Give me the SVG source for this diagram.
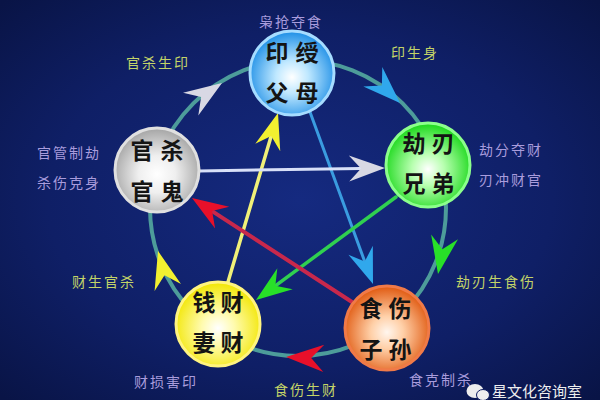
<svg xmlns="http://www.w3.org/2000/svg" xmlns:xlink="http://www.w3.org/1999/xlink" width="600" height="400" viewBox="0 0 600 400">
  <defs>
    <radialGradient id="bg" cx="50%" cy="50%" r="70%">
      <stop offset="0" stop-color="#152a80"/>
      <stop offset="0.6" stop-color="#0f1f66"/>
      <stop offset="1" stop-color="#091446"/>
    </radialGradient>
    <radialGradient id="gBlue" cx="50%" cy="55%" r="55%">
      <stop offset="0" stop-color="#ffffff"/>
      <stop offset="0.35" stop-color="#bfe8ff"/>
      <stop offset="1" stop-color="#1c8ee6"/>
    </radialGradient>
    <radialGradient id="gGreen" cx="50%" cy="55%" r="55%">
      <stop offset="0" stop-color="#ffffff"/>
      <stop offset="0.35" stop-color="#b8ffb0"/>
      <stop offset="1" stop-color="#18d818"/>
    </radialGradient>
    <radialGradient id="gGrey" cx="50%" cy="55%" r="55%">
      <stop offset="0" stop-color="#ffffff"/>
      <stop offset="0.4" stop-color="#efefef"/>
      <stop offset="1" stop-color="#a4a4a4"/>
    </radialGradient>
    <radialGradient id="gYellow" cx="50%" cy="55%" r="55%">
      <stop offset="0" stop-color="#ffffff"/>
      <stop offset="0.35" stop-color="#fffbb0"/>
      <stop offset="1" stop-color="#f2e600"/>
    </radialGradient>
    <radialGradient id="gOrange" cx="50%" cy="55%" r="55%">
      <stop offset="0" stop-color="#fff6ee"/>
      <stop offset="0.35" stop-color="#ffd0a8"/>
      <stop offset="1" stop-color="#e0580e"/>
    </radialGradient>
    <path id="ah" d="M0,0 L-36,-13 L-24,0 L-36,13 Z"/>
    <style>
      .ring { fill: none; stroke: #4d9c9a; stroke-width: 4; }
      .chord { fill: none; stroke-linecap: round; }
      .nt { font-family: "Noto Sans CJK SC", "Noto Sans", sans-serif; font-size: 23px; font-weight: bold; fill: #141414; text-anchor: middle; }
      .lbl { font-family: "Noto Sans CJK SC", "Noto Sans", sans-serif; font-size: 14px; letter-spacing: 2px; text-anchor: middle; }
      .lp { fill: #a99cdc; }
      .ly { fill: #c4d468; }
      .wm { font-family: "Noto Sans CJK SC", "Noto Sans", sans-serif; font-size: 15px; fill: #eeeeee; }
    </style>
  </defs>

  <rect x="0" y="0" width="600" height="400" fill="url(#bg)"/>

  <g id="connectors">
    <circle class="ring" cx="298" cy="208" r="148"/>
    <line class="chord" x1="228" y1="282" x2="271.2" y2="136" stroke="#f0f078" stroke-width="3.5"/>
    <line class="chord" x1="310" y1="112" x2="364.7" y2="261.5" stroke="#3a9ce0" stroke-width="3"/>
    <line class="chord" x1="199" y1="171" x2="361" y2="168.4" stroke="#d8e0f8" stroke-width="3"/>
    <line class="chord" x1="396" y1="197" x2="275.3" y2="285.8" stroke="#30d050" stroke-width="3.5"/>
    <line class="chord" x1="352" y1="302" x2="212.1" y2="211.1" stroke="#c8284c" stroke-width="4"/>
    <!-- chord arrowheads -->
    <use xlink:href="#ah" href="#ah" transform="translate(278,113) rotate(-73.5)" fill="#f2f030"/>
    <use xlink:href="#ah" href="#ah" transform="translate(373,284) rotate(69.9)" fill="#30a8ec"/>
    <use xlink:href="#ah" href="#ah" transform="translate(385,168) rotate(-0.9)" fill="#d8d8e4"/>
    <use xlink:href="#ah" href="#ah" transform="translate(256,300) rotate(143.7)" fill="#28e028"/>
    <use xlink:href="#ah" href="#ah" transform="translate(192,198) rotate(213)" fill="#e8102a"/>
    <!-- ring arrowheads -->
    <use xlink:href="#ah" href="#ah" transform="translate(222,83) rotate(-34) scale(1.05)" fill="#d8d8e4"/>
    <use xlink:href="#ah" href="#ah" transform="translate(400,103) rotate(44) scale(1.05)" fill="#30a8ec"/>
    <use xlink:href="#ah" href="#ah" transform="translate(438,274) rotate(100) scale(1.05)" fill="#28e028"/>
    <use xlink:href="#ah" href="#ah" transform="translate(286,357) rotate(182) scale(1.05)" fill="#e8102a"/>
    <use xlink:href="#ah" href="#ah" transform="translate(158,251) rotate(255) scale(1.05)" fill="#f2f030"/>
  </g>

  <g id="node-yinshou">
    <circle cx="292" cy="73" r="42" fill="url(#gBlue)" stroke="#a6dcff" stroke-width="3"/>
    <text class="nt" x="277" y="61">印</text>
    <text class="nt" x="307" y="61">绶</text>
    <text class="nt" x="277" y="101">父</text>
    <text class="nt" x="307" y="101">母</text>
  </g>

  <g id="node-jieren">
    <circle cx="428" cy="165" r="42" fill="url(#gGreen)" stroke="#8cff8c" stroke-width="3"/>
    <text class="nt" x="414" y="152">劫</text>
    <text class="nt" x="443" y="152">刃</text>
    <text class="nt" x="414" y="192">兄</text>
    <text class="nt" x="443" y="192">弟</text>
  </g>

  <g id="node-guansha">
    <circle cx="157" cy="170" r="42" fill="url(#gGrey)" stroke="#e0e0e0" stroke-width="3"/>
    <text class="nt" x="142" y="159">官</text>
    <text class="nt" x="172" y="159">杀</text>
    <text class="nt" x="142" y="200">官</text>
    <text class="nt" x="172" y="200">鬼</text>
  </g>

  <g id="node-qiancai">
    <circle cx="218" cy="324" r="42" fill="url(#gYellow)" stroke="#fff480" stroke-width="3"/>
    <text class="nt" x="204" y="311">钱</text>
    <text class="nt" x="232" y="311">财</text>
    <text class="nt" x="204" y="351">妻</text>
    <text class="nt" x="232" y="351">财</text>
  </g>

  <g id="node-shishang">
    <circle cx="387" cy="328" r="42" fill="url(#gOrange)" stroke="#f07a48" stroke-width="3"/>
    <text class="nt" x="371" y="317">食</text>
    <text class="nt" x="400" y="317">伤</text>
    <text class="nt" x="371" y="358">子</text>
    <text class="nt" x="400" y="358">孙</text>
  </g>

  <g id="labels">
    <text class="lbl lp" x="291" y="27">枭抢夺食</text>
    <text class="lbl ly" x="158" y="68">官杀生印</text>
    <text class="lbl ly" x="415" y="58">印生身</text>
    <text class="lbl lp" x="69" y="158">官管制劫</text>
    <text class="lbl lp" x="69" y="188">杀伤克身</text>
    <text class="lbl lp" x="511" y="155">劫分夺财</text>
    <text class="lbl lp" x="511" y="185">刃冲财官</text>
    <text class="lbl ly" x="496" y="287">劫刃生食伤</text>
    <text class="lbl ly" x="104" y="287">财生官杀</text>
    <text class="lbl lp" x="166" y="387">财损害印</text>
    <text class="lbl lp" x="441" y="385">食克制杀</text>
    <text class="lbl ly" x="306" y="395">食伤生财</text>
  </g>

  <g id="watermark">
    <ellipse cx="475" cy="391" rx="8.5" ry="7" fill="#eeeeee"/>
    <ellipse cx="483" cy="395" rx="6.5" ry="5.5" fill="#eeeeee" stroke="#0e1d62" stroke-width="1"/>
    <text class="wm" x="492" y="397">星文化咨询室</text>
  </g>
</svg>
